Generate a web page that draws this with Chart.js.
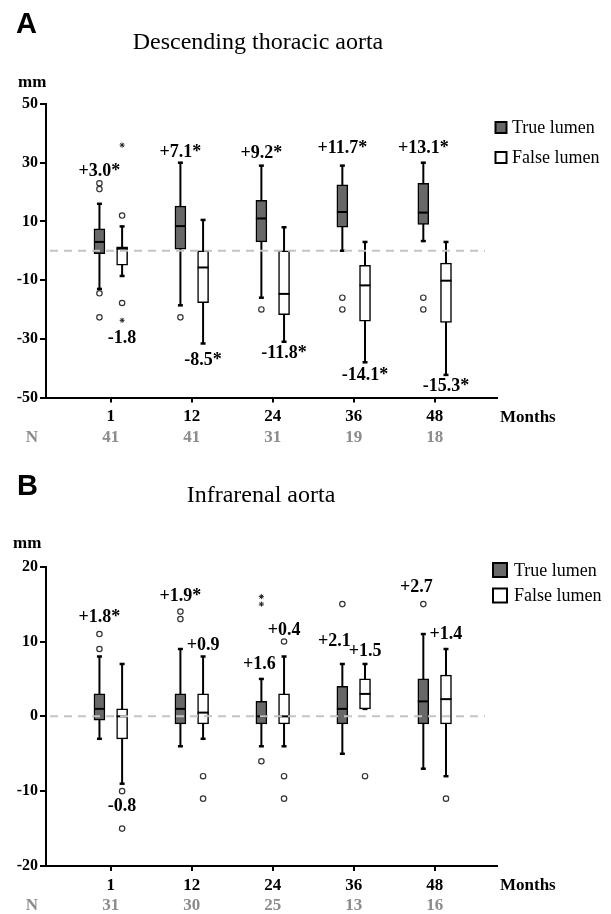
<!DOCTYPE html>
<html>
<head>
<meta charset="utf-8">
<script src="https://cdn.jsdelivr.net/npm/chart.js@4.4.1/dist/chart.umd.min.js"></script>
<style>
  body { margin: 0; background: #fff; }
  canvas { display: block; }
</style>
</head>
<body>
<canvas id="chartA" width="611" height="457"></canvas>
<canvas id="chartB" width="611" height="457"></canvas>
<script>
const months = ['1', '12', '24', '36', '48'];
const nThoracic = [41, 41, 31, 19, 18];
const nInfrarenal = [31, 30, 25, 13, 16];

// [whisker low, q1, median, q3, whisker high]
const thoracicTrue = [[-13, -1, 3, 7.5, 16], [-18.6, 0.5, 8.4, 15.2, 30], [-16, 3, 11, 17.2, 29], [0, 8, 13.2, 22.5, 29], [3.3, 9, 13, 23, 30]];
const thoracicFalse = [[-8.6, -4.9, 0.7, 1.3, 8.3], [-31.6, -17.7, -5.7, 0, 10.5], [-31, -21.8, -14.7, 0, 8], [-38, -24, -11.8, -5, 3], [-42.3, -24.4, -10.2, -4.2, 3]];
const thoracicTrueOut = [[23, 21, -14.5, -22.7], [-22.7], [-20], [-16, -20], [-16, -20]];
const thoracicFalseOut = [[12, -17.8], [], [], [], []];
const thoracicFalseExt = [[36, -23.7], [], [], [], []];
const thoracicTrueTxt = ['+3.0*', '+7.1*', '+9.2*', '+11.7*', '+13.1*'];
const thoracicFalseTxt = ['-1.8', '-8.5*', '-11.8*', '-14.1*', '-15.3*'];

const infraTrue = [[-3, -0.5, 1, 3, 8], [-4, -1, 1, 3, 9], [-4, -1, 0, 2, 5], [-5, -1, 1, 4, 7], [-7, -1, 2, 5, 11]];
const infraFalse = [[-9, -3, 0, 1, 7], [-3, -1, 0.5, 3, 8], [-4, -1, 0, 3, 8], [1, 1, 3, 5, 7], [-8, -1, 2.3, 5.5, 9]];
const infraTrueOut = [[11, 9], [14, 13], [-6], [15], [15]];
const infraTrueExt = [[], [], [16, 15], [], []];
const infraFalseOut = [[-10, -15], [-8, -11], [10, -8, -11], [-8], [-11]];
const infraTrueTxt = ['+1.8*', '+1.9*', '+1.6', '+2.1', '+2.7'];
const infraFalseTxt = ['-0.8', '+0.9', '+0.4', '+1.5', '+1.4'];

// where each mean-change label sits (value of its baseline)
const thoracicTrueTxtAt = [25.5, 32, 31.5, 33.2, 33.2];
const thoracicFalseTxtAt = [-31.5, -38.9, -36.7, -44, -47.7];
const infraTrueTxtAt = [12.6, 15.4, 6.3, 9.4, 16.6];
const infraFalseTxtAt = [-12.6, 8.9, 10.9, 8.0, 10.3];

const serif = "'Liberation Serif', 'Times New Roman', serif";
const shift = 0.14;
const trueFill = '#686868';

function boxData(stats, off) {
    return stats.map((s, i) => ({ x: i + 1 + off, y: [s[1], s[3]] }));
}

function pointData(list, off) {
    let pts = [];
    list.forEach((vals, i) => vals.forEach(v => pts.push({ x: i + 1 + off, y: v })));
    return pts;
}

const boxLines = {
    id: 'boxLines',
    beforeDatasetsDraw(chart) {
        const { ctx, scales: { x, y } } = chart;
        ctx.save();
        ctx.strokeStyle = '#000';
        chart.data.datasets.forEach(ds => {
            if (!ds.stats) return;
            ds.stats.forEach((s, i) => {
                const px = x.getPixelForValue(i + 1 + ds.offset);
                ctx.lineWidth = 2;
                ctx.beginPath();
                ctx.moveTo(px, y.getPixelForValue(s[0]));
                ctx.lineTo(px, y.getPixelForValue(s[4]));
                ctx.stroke();
                ctx.lineWidth = 2.5;
                [s[0], s[4]].forEach(v => {
                    const py = y.getPixelForValue(v);
                    ctx.beginPath();
                    ctx.moveTo(px - 2.5, py);
                    ctx.lineTo(px + 2.5, py);
                    ctx.stroke();
                });
            });
        });
        ctx.restore();
    },
    afterDatasetsDraw(chart) {
        const { ctx, chartArea, scales: { x, y } } = chart;
        ctx.save();
        ctx.strokeStyle = '#000';
        ctx.lineWidth = 2;
        chart.data.datasets.forEach(ds => {
            if (!ds.stats) return;
            ds.stats.forEach((s, i) => {
                const px = x.getPixelForValue(i + 1 + ds.offset);
                const py = y.getPixelForValue(s[2]);
                ctx.beginPath();
                ctx.moveTo(px - 5.5, py);
                ctx.lineTo(px + 5.5, py);
                ctx.stroke();
            });
        });
        // zero reference line
        const y0 = y.getPixelForValue(0);
        ctx.strokeStyle = '#c4c4c4';
        ctx.setLineDash([8, 6]);
        ctx.beginPath();
        ctx.moveTo(chartArea.left + 4, y0);
        ctx.lineTo(chartArea.right - 12, y0);
        ctx.stroke();
        ctx.restore();
    }
};

const panelText = {
    id: 'panelText',
    afterDraw(chart, args, p) {
        const { ctx, chartArea, scales: { x, y } } = chart;
        ctx.save();
        ctx.fillStyle = '#000';
        ctx.textBaseline = 'alphabetic';
        ctx.textAlign = 'left';
        ctx.font = "bold 29px 'Liberation Sans', Arial, sans-serif";
        ctx.fillText(p.letter, p.letterX, p.letterBase);

        ctx.textAlign = 'center';
        ctx.font = '24px ' + serif;
        ctx.fillText(p.title, p.titleX, p.titleBase);

        ctx.textAlign = 'left';
        ctx.textBaseline = 'middle';
        ctx.font = 'bold 17px ' + serif;
        ctx.fillText('mm', p.mmX, p.mmY);
        ctx.fillText('Months', 500, chartArea.bottom + 20);

        // sample sizes
        ctx.fillStyle = '#8c8c8c';
        ctx.textAlign = 'center';
        ctx.fillText('N', 32, chartArea.bottom + 40);
        p.n.forEach((v, i) => ctx.fillText(String(v), x.getPixelForValue(i + 1), chartArea.bottom + 40));

        // legend
        const boxes = chart.data.datasets.filter(ds => ds.stats);
        boxes.forEach((ds, k) => {
            const cy = p.legendY[k];
            const b = p.legendBox;
            ctx.fillStyle = ds.backgroundColor;
            ctx.fillRect(p.legendX, cy - b / 2, b, b);
            ctx.strokeStyle = '#000';
            ctx.lineWidth = 2;
            ctx.strokeRect(p.legendX, cy - b / 2, b, b);
            ctx.fillStyle = '#000';
            ctx.textAlign = 'left';
            ctx.font = '18px ' + serif;
            ctx.fillText(ds.label, p.legendTextX, cy + 1);
        });

        // mean change labels
        ctx.font = 'bold 18px ' + serif;
        ctx.textAlign = 'center';
        ctx.textBaseline = 'alphabetic';
        p.trueTxt.forEach((t, i) => ctx.fillText(t, x.getPixelForValue(i + 1 - shift) + (p.trueTxtDx[i] || 0), y.getPixelForValue(p.trueTxtAt[i])));
        p.falseTxt.forEach((t, i) => ctx.fillText(t, x.getPixelForValue(i + 1 + shift), y.getPixelForValue(p.falseTxtAt[i])));
        ctx.restore();
    }
};

function makeChart(id, p) {
    const tickFont = { family: serif, weight: 'bold', size: 17 };
    return new Chart(document.getElementById(id), {
        type: 'bar',
        data: {
            datasets: [
                { label: 'True lumen', data: boxData(p.trueStats, -shift), stats: p.trueStats, offset: -shift,
                  backgroundColor: trueFill, borderColor: '#000', borderWidth: 1.5, borderSkipped: false, barThickness: 11, grouped: false },
                { label: 'False lumen', data: boxData(p.falseStats, shift), stats: p.falseStats, offset: shift,
                  backgroundColor: '#ffffff', borderColor: '#000', borderWidth: 1.5, borderSkipped: false, barThickness: 11, grouped: false },
                { type: 'scatter', data: pointData(p.trueOut, -shift).concat(pointData(p.falseOut, shift)),
                  pointStyle: 'circle', pointRadius: 2.7, backgroundColor: '#fff', borderColor: '#333', borderWidth: 1.2 },
                { type: 'scatter', data: pointData(p.trueExt, -shift).concat(pointData(p.falseExt, shift)),
                  pointStyle: 'star', pointRadius: 2.5, borderColor: '#222', borderWidth: 1 }
            ]
        },
        options: {
            responsive: false,
            animation: false,
            layout: { padding: { top: p.top, right: 114, bottom: p.bottomPad, left: 0 } },
            plugins: {
                legend: { display: false },
                tooltip: { enabled: false },
                panelText: p
            },
            scales: {
                x: {
                    type: 'linear', min: 0.2, max: 5.77, offset: false,
                    afterBuildTicks: s => { s.ticks = months.map((m, i) => ({ value: i + 1 })); },
                    afterFit: s => { s.height = 40; },
                    ticks: { callback: v => months[v - 1], font: tickFont, color: '#000', padding: 4, maxRotation: 0, autoSkip: false },
                    grid: { offset: false, drawOnChartArea: false, tickLength: 5, color: '#000', lineWidth: 2 },
                    border: { color: '#000', width: 2 }
                },
                y: {
                    min: p.yTicks[0], max: p.yTicks[p.yTicks.length - 1],
                    afterBuildTicks: s => { s.ticks = p.yTicks.map(v => ({ value: v })); },
                    afterFit: s => { s.width = 46; },
                    ticks: { callback: v => String(v), font: { family: serif, weight: 'bold', size: 16 }, color: '#000', padding: 2 },
                    grid: { drawOnChartArea: false, tickLength: 6, color: '#000', lineWidth: 2 },
                    border: { color: '#000', width: 2 }
                }
            }
        },
        plugins: [boxLines, panelText]
    });
}

makeChart('chartA', {
    letter: 'A', letterX: 16, letterBase: 33,
    title: 'Descending thoracic aorta', titleX: 258, titleBase: 49,
    mmX: 18, mmY: 83,
    legendX: 495.5, legendTextX: 512, legendY: [127.5, 157.5], legendBox: 11,
    top: 104, bottomPad: 19.5,
    yTicks: [-50, -30, -10, 10, 30, 50],
    n: nThoracic,
    trueStats: thoracicTrue, falseStats: thoracicFalse,
    trueOut: thoracicTrueOut, falseOut: thoracicFalseOut,
    trueExt: [[], [], [], [], []], falseExt: thoracicFalseExt,
    trueTxt: thoracicTrueTxt, falseTxt: thoracicFalseTxt,
    trueTxtAt: thoracicTrueTxtAt, falseTxtAt: thoracicFalseTxtAt,
    trueTxtDx: []
});

makeChart('chartB', {
    letter: 'B', letterX: 17, letterBase: 38,
    title: 'Infrarenal aorta', titleX: 261, titleBase: 45,
    mmX: 13, mmY: 87,
    legendX: 493, legendTextX: 514, legendY: [113, 138.5], legendBox: 14,
    top: 109.7, bottomPad: 8,
    yTicks: [-20, -10, 0, 10, 20],
    n: nInfrarenal,
    trueStats: infraTrue, falseStats: infraFalse,
    trueOut: infraTrueOut, falseOut: infraFalseOut,
    trueExt: infraTrueExt, falseExt: [[], [], [], [], []],
    trueTxt: infraTrueTxt, falseTxt: infraFalseTxt,
    trueTxtAt: infraTrueTxtAt, falseTxtAt: infraFalseTxtAt,
    trueTxtDx: [0, 0, -2, -8, -7]
});
</script>
</body>
</html>
